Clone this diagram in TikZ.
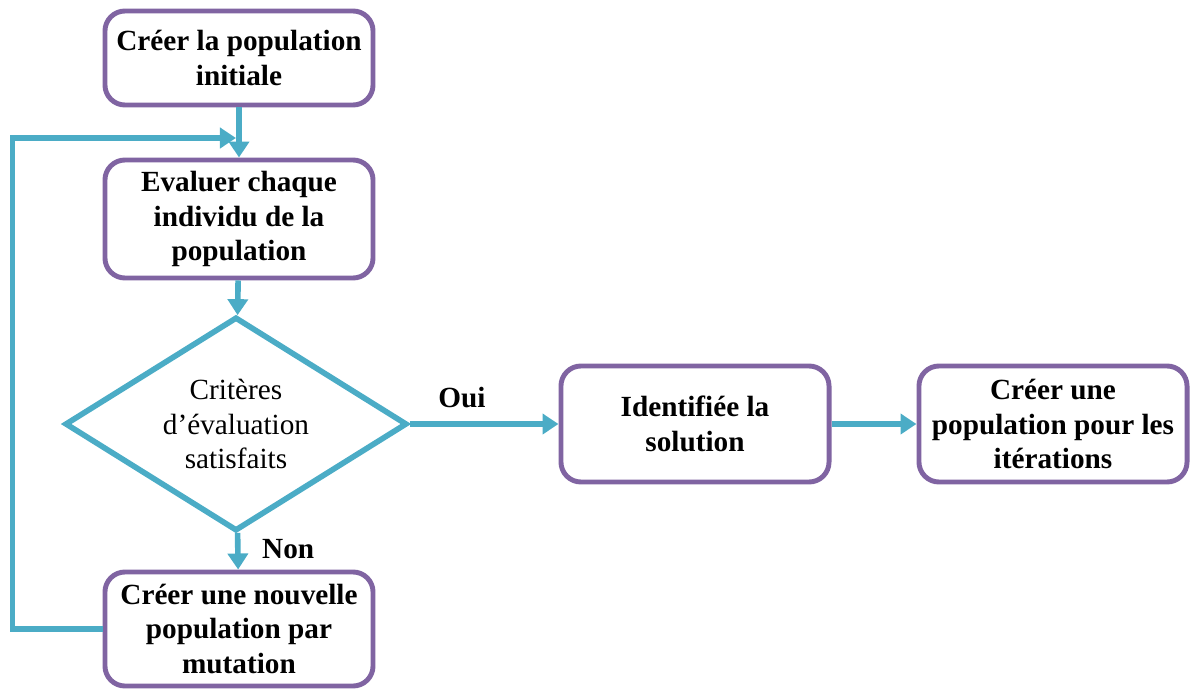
\documentclass[tikz,border=0pt]{standalone}
\usepackage{fontspec}
\setmainfont{Liberation Serif}
\usepackage{xcolor}
\usetikzlibrary{shapes, arrows.meta, positioning}
\definecolor{violet}{HTML}{8064A2}
\definecolor{cyan}{HTML}{4BACC6}

\begin{document}
\begin{tikzpicture}[x=0.025cm, y=-0.025cm,
    boite/.style={draw=violet, line width=3.5pt, rounded corners=0.5cm, fill=white,
      minimum width=6.7cm, align=center, font=\fontsize{20.8}{24.5}\selectfont\bfseries},
    fleche/.style={draw=cyan, line width=4pt, -{Triangle[length=0.4cm, width=0.5cm]}},
    etiq/.style={font=\fontsize{20.8}{24.5}\selectfont\bfseries}]
        \useasboundingbox (0,0) rectangle (1193,691);
        % Boites
        \node[boite, minimum height=2.35cm] (init) at (239,58) {Créer la population\\initiale};
        \node[boite, minimum height=2.95cm] (eval) at (239,219) {Evaluer chaque\\individu de la\\population};
        \node[draw=cyan, line width=4pt, shape=diamond, aspect=1.7, minimum width=8.55cm, minimum height=5.35cm,
          inner sep=0pt, align=center, font=\fontsize{20.8}{24.5}\selectfont] (crit) at (236,424)
          {Critères\\d’évaluation\\satisfaits};
        \node[boite, minimum height=2.85cm] (mut) at (239,629) {Créer une nouvelle\\population par\\mutation};
        \node[boite, minimum height=2.9cm] (sol) at (695,424) {Identifiée la\\solution};
        \node[boite, minimum height=2.9cm] (iter) at (1053,424) {Créer une\\population pour les\\itérations};
        \coordinate (retour) at (236,138);
        % Fleches
        \draw[fleche] (init) -- (eval);
        \draw[fleche] (eval) -- (crit);
        \draw[fleche] (crit) -- (mut) node[etiq, pos=0.45, right=12pt] {Non};
        \draw[fleche] (crit) -- (sol) node[etiq, pos=0.35, above=6pt] {Oui};
        \draw[fleche] (sol) -- (iter);
        \draw[fleche] (mut.west) -- ++(-90,0) |- (retour);
    \end{tikzpicture}
\end{document}
